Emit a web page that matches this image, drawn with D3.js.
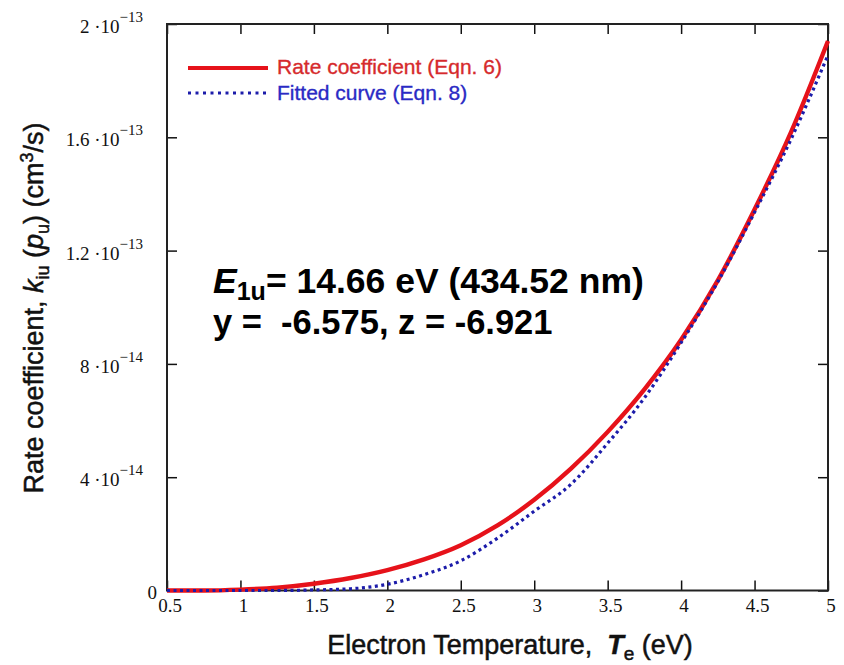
<!DOCTYPE html>
<html>
<head>
<meta charset="utf-8">
<script src="https://cdn.jsdelivr.net/npm/d3@7"></script>
<style>
  html, body { margin: 0; padding: 0; background: #fff; }
  svg { display: block; }
  text { white-space: pre; }
</style>
</head>
<body>
<svg id="chart" width="844" height="665"></svg>
<script>
// ---- Data ----
const temperatures = [0.5, 0.75, 1.0, 1.25, 1.5, 1.75, 2.0, 2.25, 2.5, 2.75, 3.0, 3.25, 3.5, 3.75, 4.0, 4.25, 4.5, 4.75, 5.0];
const rateCoefficient = [0, 0, 3e-16, 1.0e-15, 2.4e-15, 4.4e-15, 7.2e-15, 1.1e-14, 1.6e-14, 2.3e-14, 3.2e-14, 4.3e-14, 5.6e-14, 7.1e-14, 8.85e-14, 1.095e-13, 1.345e-13, 1.62e-13, 1.94e-13];
const fittedCurve = [0, 0, 0, 0, 2e-16, 6e-16, 2.2e-15, 5.6e-15, 1.05e-14, 1.85e-14, 2.8e-14, 3.75e-14, 5.2e-14, 6.8e-14, 8.75e-14, 1.09e-13, 1.335e-13, 1.595e-13, 1.89e-13];

const xTicks = [0.5, 1, 1.5, 2, 2.5, 3, 3.5, 4, 4.5, 5];
const xTickLabels = ["0.5", "1", "1.5", "2", "2.5", "3", "3.5", "4", "4.5", "5"];
const yTicks = [0, 4e-14, 8e-14, 1.2e-13, 1.6e-13, 2e-13];
const yTickMantissa = ["0", "4", "8", "1.2", "1.6", "2"];
const yTickExponent = [null, "\u221214", "\u221214", "\u221213", "\u221213", "\u221213"];

const seriesNames = ["Rate coefficient (Eqn. 6)", "Fitted curve (Eqn. 8)"];
const annotationLine1 = ["E", "1u", "= 14.66 eV (434.52 nm)"];
const annotationLine2 = "y =  -6.575, z = -6.921";

// ---- Layout ----
const svg = d3.select("#chart");
const plot = { left: 167, right: 828, top: 24, bottom: 590.5 };
const x = d3.scaleLinear().domain([0.5, 5]).range([plot.left, plot.right]);
const y = d3.scaleLinear().domain([0, 2e-13]).range([plot.bottom, plot.top]);

const sans = "'Liberation Sans', Arial, sans-serif";
const serif = "'Liberation Serif', 'Times New Roman', serif";

// ---- Axes (ticks pointing inward on all four sides) ----
function styleAxis(g) {
  g.select(".domain").remove();
  g.selectAll(".tick line").attr("stroke", "#111").attr("stroke-width", 1.5);
  g.selectAll(".tick text").remove();
}
svg.append("g").attr("transform", `translate(0,${plot.bottom})`)
  .call(d3.axisBottom(x).tickValues(xTicks).tickSize(-10).tickFormat("")).call(styleAxis);
svg.append("g").attr("transform", `translate(0,${plot.top})`)
  .call(d3.axisTop(x).tickValues(xTicks).tickSize(-10).tickFormat("")).call(styleAxis);
svg.append("g").attr("transform", `translate(${plot.left},0)`)
  .call(d3.axisLeft(y).tickValues(yTicks).tickSize(-10).tickFormat("")).call(styleAxis);
svg.append("g").attr("transform", `translate(${plot.right},0)`)
  .call(d3.axisRight(y).tickValues(yTicks).tickSize(-10).tickFormat("")).call(styleAxis);

// frame
svg.append("rect")
  .attr("x", plot.left).attr("y", plot.top)
  .attr("width", plot.right - plot.left).attr("height", plot.bottom - plot.top)
  .attr("fill", "none").attr("stroke", "#222").attr("stroke-width", 2);

// x tick labels
svg.append("g").selectAll("text").data(xTicks).join("text")
  .attr("x", d => x(d) + 3)
  .attr("y", 612)
  .attr("text-anchor", "middle")
  .attr("font-family", serif).attr("font-size", 19).attr("fill", "#111")
  .text((d, i) => xTickLabels[i]);

// y tick labels (Mathcad style mantissa·10^exp)
yTicks.forEach((v, i) => {
  const t = svg.append("text")
    .attr("font-family", serif).attr("fill", "#111");
  if (yTickExponent[i] === null) {
    t.attr("x", 157).attr("y", y(v) + 8.5).attr("text-anchor", "end")
      .attr("font-size", 19).text(yTickMantissa[i]);
  } else {
    t.attr("x", 143).attr("y", y(v) + 9).attr("text-anchor", "end");
    t.append("tspan").attr("font-size", 19).text(yTickMantissa[i] + " \u00B710");
    t.append("tspan").attr("font-size", 15).attr("dy", -11).text(yTickExponent[i]);
  }
});

// ---- Curves ----
const line = d3.line().curve(d3.curveMonotoneX);
svg.append("path")
  .attr("d", line(temperatures.map((t, i) => [x(t), y(rateCoefficient[i])])))
  .attr("fill", "none").attr("stroke", "#e6121a").attr("stroke-width", 4.4);
svg.append("path")
  .attr("d", line(temperatures.map((t, i) => [x(t), y(fittedCurve[i])])))
  .attr("fill", "none").attr("stroke", "#1c1caa").attr("stroke-width", 3.2)
  .attr("stroke-dasharray", "3,3.5");

// ---- Legend ----
svg.append("line").attr("x1", 188).attr("x2", 268).attr("y1", 68).attr("y2", 68)
  .attr("stroke", "#e6121a").attr("stroke-width", 4);
svg.append("line").attr("x1", 188).attr("x2", 268).attr("y1", 93).attr("y2", 93)
  .attr("stroke", "#1c1caa").attr("stroke-width", 3.2).attr("stroke-dasharray", "3,4.5");
svg.append("text").attr("x", 277).attr("y", 74)
  .attr("font-family", sans).attr("font-size", 21).attr("fill", "#d62a2c")
  .attr("stroke", "#d62a2c").attr("stroke-width", 0.35)
  .text(seriesNames[0]);
svg.append("text").attr("x", 277).attr("y", 100)
  .attr("font-family", sans).attr("font-size", 21).attr("fill", "#2a2ac4")
  .attr("stroke", "#2a2ac4").attr("stroke-width", 0.35)
  .text(seriesNames[1]);

// ---- Annotation ----
const a1 = svg.append("text").attr("x", 213).attr("y", 293)
  .attr("font-family", sans).attr("font-size", 35.5).attr("font-weight", "bold").attr("fill", "#000");
a1.append("tspan").attr("font-style", "italic").text(annotationLine1[0]);
a1.append("tspan").attr("font-size", 25).attr("dy", 7).text(annotationLine1[1]);
a1.append("tspan").attr("dy", -7).text(annotationLine1[2]);
svg.append("text").attr("x", 213).attr("y", 334)
  .attr("font-family", sans).attr("font-size", 34.5).attr("font-weight", "bold").attr("fill", "#000")
  .text(annotationLine2);

// ---- Axis titles ----
const xt = svg.append("text").attr("x", 510).attr("y", 654).attr("text-anchor", "middle")
  .attr("font-family", sans).attr("font-size", 27).attr("fill", "#111")
  .attr("stroke", "#111").attr("stroke-width", 0.5);
xt.append("tspan").text("Electron Temperature,  ");
xt.append("tspan").attr("font-style", "italic").attr("font-weight", "bold").text("T");
xt.append("tspan").attr("font-size", 19).attr("dy", 6).text("e");
xt.append("tspan").attr("dy", -6).text(" (eV)");

const yt = svg.append("text").attr("transform", "translate(43,308) rotate(-90)")
  .attr("text-anchor", "middle")
  .attr("font-family", sans).attr("font-size", 27).attr("fill", "#111")
  .attr("stroke", "#111").attr("stroke-width", 0.5);
yt.append("tspan").text("Rate coefficient, ");
yt.append("tspan").attr("font-style", "italic").text("k");
yt.append("tspan").attr("font-size", 18).attr("dy", 6).text("iu");
yt.append("tspan").attr("dy", -6).text(" (");
yt.append("tspan").attr("font-style", "italic").text("p");
yt.append("tspan").attr("font-size", 18).attr("dy", 6).text("u");
yt.append("tspan").attr("dy", -6).text(") (cm");
yt.append("tspan").attr("font-size", 18).attr("dy", -10).text("3");
yt.append("tspan").attr("dy", 10).text("/s)");
</script>
</body>
</html>
